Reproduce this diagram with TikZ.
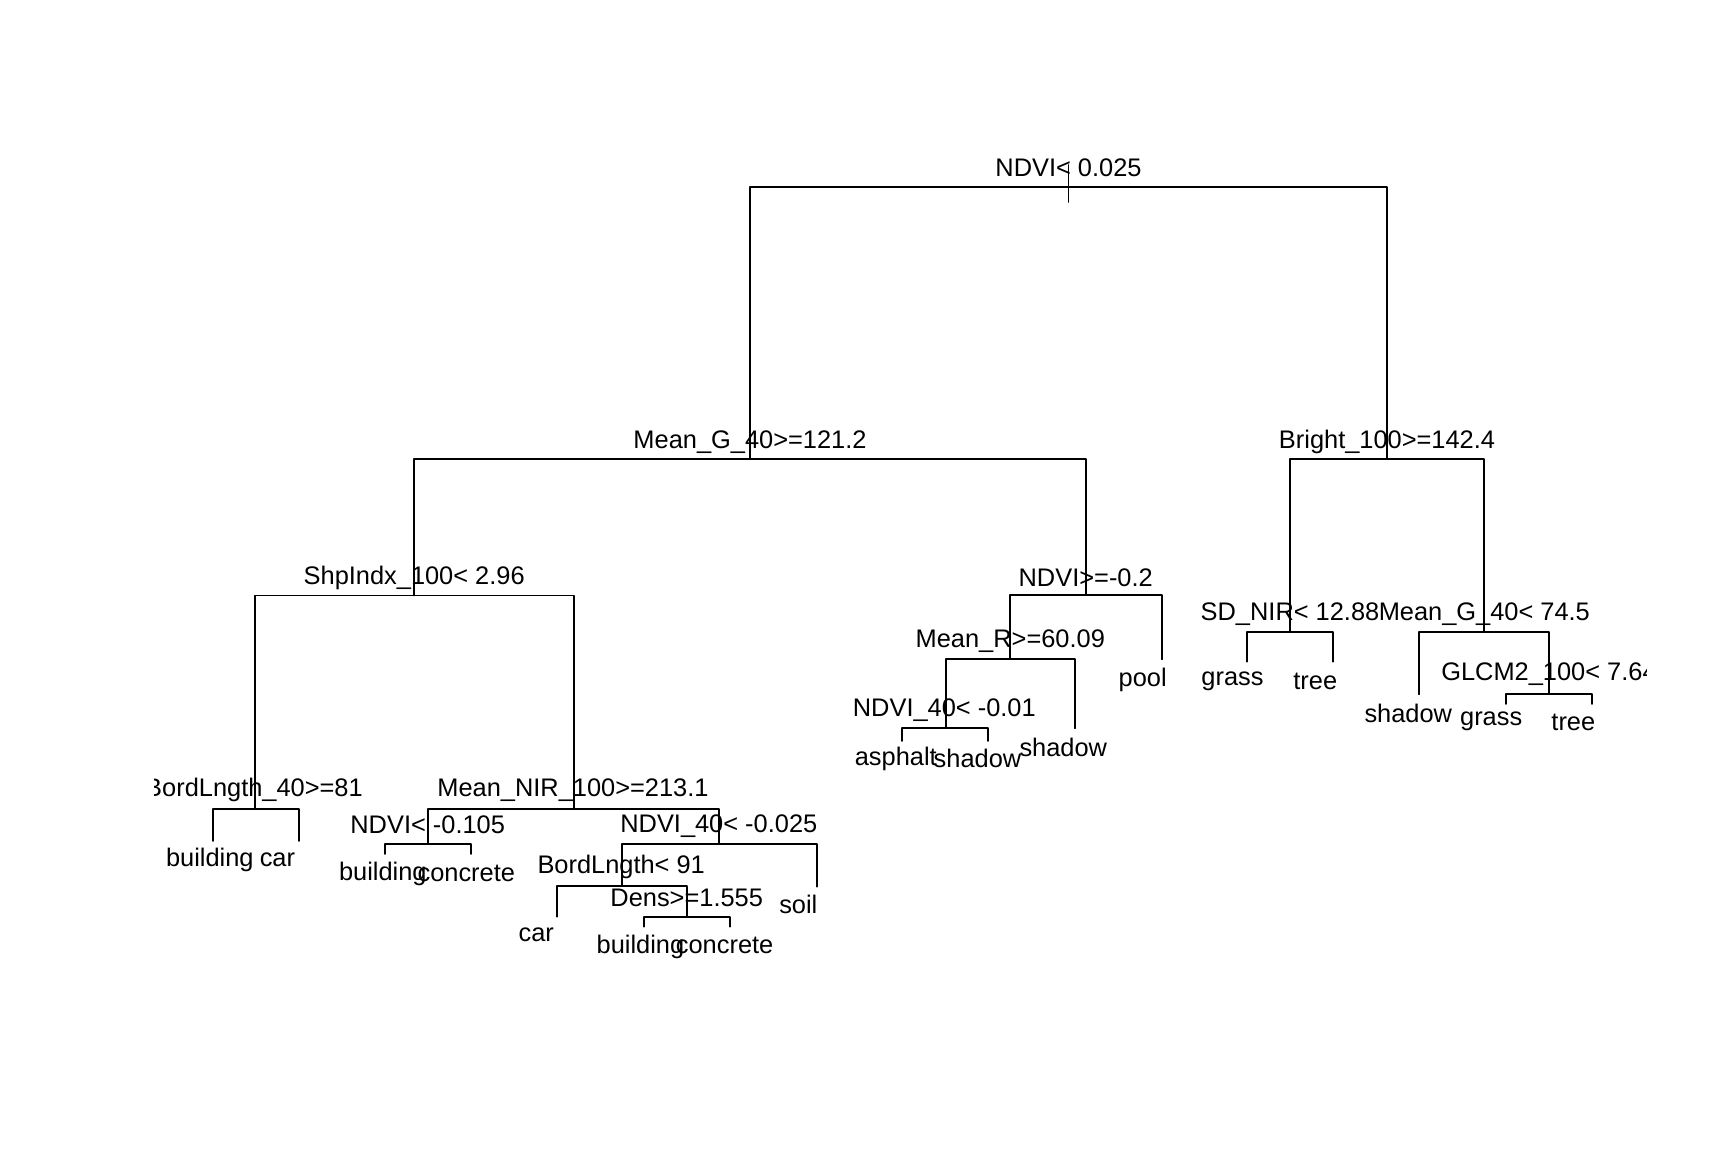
\documentclass[tikz,border=0pt]{standalone}
\usepackage{fontspec}
\setmainfont{Liberation Sans}
\begin{document}
\begin{tikzpicture}[x=0.5pt,y=-0.5pt,
  br/.style={line width=0.9pt, line cap=round, line join=round},
  lab/.style={anchor=base, inner sep=0pt, outer sep=0pt, font=\fontsize{12.7}{15}\selectfont}]
\useasboundingbox[fill=white] (0,0) rectangle (1728,1152);
% tree node positions
\coordinate (n1t) at (1068.5,165);
\coordinate (n1b) at (1068.5,202);
\coordinate (n1) at (1068.5,186.7);
\coordinate (n2) at (750,459.3);
\coordinate (n3) at (1386.7,459.3);
\coordinate (n4) at (414.3,595.5);
\coordinate (n5) at (1085.7,595);
\coordinate (n6) at (1290,631.7);
\coordinate (n7) at (1484.3,631.7);
\coordinate (n8) at (255,809);
\coordinate (n9) at (574,809);
\coordinate (n10) at (1010,659);
\coordinate (n11) at (1161.7,659.3);
\coordinate (n12) at (1247.3,661.7);
\coordinate (n13) at (1333,661.7);
\coordinate (n14) at (1419.3,694.3);
\coordinate (n15) at (1548.7,693.7);
\coordinate (n16) at (212.7,841);
\coordinate (n17) at (299,841);
\coordinate (n18) at (428.3,844);
\coordinate (n19) at (719,844);
\coordinate (n20) at (945.7,728.3);
\coordinate (n21) at (1075,728.3);
\coordinate (n22) at (1506,704);
\coordinate (n23) at (1592.3,704);
\coordinate (n24) at (385,854);
\coordinate (n25) at (471,854);
\coordinate (n26) at (622.3,885.7);
\coordinate (n27) at (816.7,886.7);
\coordinate (n28) at (902.3,741);
\coordinate (n29) at (988.3,741);
\coordinate (n30) at (557,916.7);
\coordinate (n31) at (686.7,916.7);
\coordinate (n32) at (643.7,926.7);
\coordinate (n33) at (730,926.7);
% branches
\draw[br] (n1t) -- (n1b);
\draw[br] (n1) -| (n2);
\draw[br] (n1) -| (n3);
\draw[br] (n2) -| (n4);
\draw[br] (n2) -| (n5);
\draw[br] (n3) -| (n6);
\draw[br] (n3) -| (n7);
\draw[br] (n4) -| (n8);
\draw[br] (n4) -| (n9);
\draw[br] (n5) -| (n10);
\draw[br] (n5) -| (n11);
\draw[br] (n6) -| (n12);
\draw[br] (n6) -| (n13);
\draw[br] (n7) -| (n14);
\draw[br] (n7) -| (n15);
\draw[br] (n8) -| (n16);
\draw[br] (n8) -| (n17);
\draw[br] (n9) -| (n18);
\draw[br] (n9) -| (n19);
\draw[br] (n10) -| (n20);
\draw[br] (n10) -| (n21);
\draw[br] (n15) -| (n22);
\draw[br] (n15) -| (n23);
\draw[br] (n18) -| (n24);
\draw[br] (n18) -| (n25);
\draw[br] (n19) -| (n26);
\draw[br] (n19) -| (n27);
\draw[br] (n20) -| (n28);
\draw[br] (n20) -| (n29);
\draw[br] (n26) -| (n30);
\draw[br] (n26) -| (n31);
\draw[br] (n31) -| (n32);
\draw[br] (n31) -| (n33);
% labels
\begin{scope}
\clip (154,0) rectangle (1646,1152);
\node[lab] (l1) at (1068.5,176) {NDVI< 0.025};
\node[lab] (l2) at (750,448.3) {Mean\_G\_40>=121.2};
\node[lab] (l3) at (1387,448.3) {Bright\_100>=142.4};
\node[lab] (l4) at (414.2,584) {ShpIndx\_100< 2.96};
\node[lab] (l5) at (1085.7,586) {NDVI>=-0.2};
\node[lab] (l6) at (1290,620) {SD\_NIR< 12.88};
\node[lab] (l7) at (1484.3,620) {Mean\_G\_40< 74.5};
\node[lab] (l8) at (254,796.7) {BordLngth\_40>=81};
\node[lab] (l9) at (573,796.7) {Mean\_NIR\_100>=213.1};
\node[lab] (l10) at (1010.3,647.3) {Mean\_R>=60.09};
\node[lab] (l11) at (1142.7,686) {pool};
\node[lab] (l12) at (1232.5,685) {grass};
\node[lab] (l13) at (1315.3,689.3) {tree};
\node[lab] (l14) at (1408.3,722.7) {shadow};
\node[lab] (l15) at (1549,680) {GLCM2\_100< 7.64};
\node[lab] (l16) at (209.8,866) {building};
\node[lab] (l17) at (277.4,866) {car};
\node[lab] (l18) at (427.7,833.3) {NDVI< -0.105};
\node[lab] (l19) at (718.8,832.7) {NDVI\_40< -0.025};
\node[lab] (l20) at (944.3,716) {NDVI\_40< -0.01};
\node[lab] (l21) at (1063.3,756.7) {shadow};
\node[lab] (l22) at (1491.2,725) {grass};
\node[lab] (l23) at (1573.3,730) {tree};
\node[lab] (l24) at (382.8,880) {building};
\node[lab] (l25) at (466.3,881) {concrete};
\node[lab] (l26) at (621.2,873.3) {BordLngth< 91};
\node[lab] (l27) at (798.3,913.3) {soil};
\node[lab] (l28) at (895.8,765) {asphalt};
\node[lab] (l29) at (977.5,767.3) {shadow};
\node[lab] (l30) at (536.3,941.7) {car};
\node[lab] (l31) at (686.7,906.7) {Dens>=1.555};
\node[lab] (l32) at (640.4,953.3) {building};
\node[lab] (l33) at (724.6,953.3) {concrete};
\end{scope}
\end{tikzpicture}
\end{document}
